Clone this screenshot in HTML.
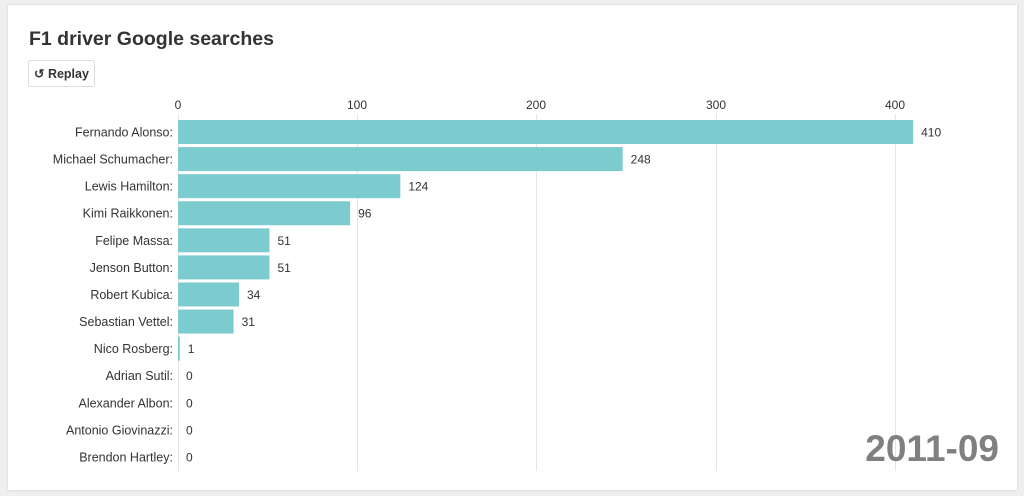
<!DOCTYPE html>
<html><head><meta charset="utf-8"><style>
html,body{margin:0;padding:0;background:#efefef;width:1024px;height:496px;overflow:hidden;font-family:"Liberation Sans",sans-serif}
.card{position:absolute;left:8px;top:5px;width:1009px;height:485px;background:#fff;box-shadow:0 0 3px rgba(0,0,0,.12)}
</style></head><body>
<div class="card"></div>
<svg width="1024" height="496" style="position:absolute;left:0;top:0" font-family="Liberation Sans, sans-serif">
<text x="29" y="45" font-size="19.5" font-weight="bold" fill="#333">F1 driver Google searches</text>
<rect x="28.5" y="60.5" width="66" height="26" rx="2" fill="#fff" stroke="#ddd"/>
<text x="34" y="78" font-size="12.5" font-weight="bold" fill="#333">↺ Replay</text>
<g stroke="#e6e6e6" stroke-width="1">
<line x1="178.5" y1="114" x2="178.5" y2="471"/><line x1="357.5" y1="114" x2="357.5" y2="471"/>
<line x1="536.5" y1="114" x2="536.5" y2="471"/><line x1="716.5" y1="114" x2="716.5" y2="471"/>
<line x1="895.5" y1="114" x2="895.5" y2="471"/></g>
<g font-size="12" fill="#333" text-anchor="middle">
<text x="178" y="109">0</text><text x="357" y="109">100</text><text x="536" y="109">200</text><text x="716" y="109">300</text><text x="895" y="109">400</text></g>
<g id="rows" font-size="12.5" fill="#333"></g>
<text x="999" y="461" font-size="37" font-weight="bold" fill="#808080" text-anchor="end">2011-09</text>
</svg>
<script>
var d=[["Fernando Alonso",410],["Michael Schumacher",248],["Lewis Hamilton",124],["Kimi Raikkonen",96],["Felipe Massa",51],["Jenson Button",51],["Robert Kubica",34],["Sebastian Vettel",31],["Nico Rosberg",1],["Adrian Sutil",0],["Alexander Albon",0],["Antonio Giovinazzi",0],["Brendon Hartley",0]];
var g=document.getElementById('rows'),s='';
d.forEach(function(r,i){var c=132+27.08*i,w=r[1]*1.793;
s+='<rect x="178" y="'+(c-12)+'" width="'+w+'" height="24" fill="#7ccbcf"/>';
s+='<text x="173" y="'+(c+4.5)+'" text-anchor="end">'+r[0]+':</text>';
s+='<text x="'+(178+w+8)+'" y="'+(c+4.5)+'" font-size="12">'+r[1]+'</text>';});
g.innerHTML=s;
</script>
</body></html>
